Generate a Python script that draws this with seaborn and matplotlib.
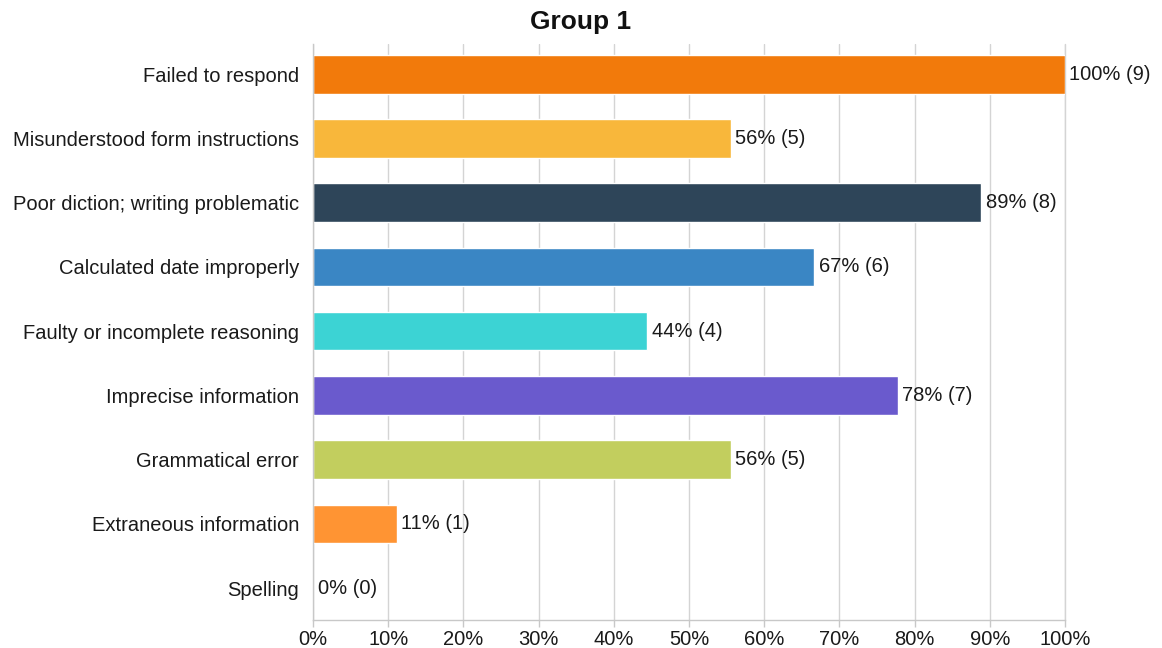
import matplotlib
matplotlib.use("Agg")
import matplotlib.pyplot as plt
import seaborn as sns
import pandas as pd
import numpy as np

categories = ["Failed to respond", "Misunderstood form instructions", "Poor diction; writing problematic",
              "Calculated date improperly", "Faulty or incomplete reasoning", "Imprecise information",
              "Grammatical error", "Extraneous information", "Spelling"]
counts = [9, 5, 8, 6, 4, 7, 5, 1, 0]
total = 9
colors = ["#F27A0B", "#F8B73B", "#2E4559", "#3A86C4", "#3CD3D4", "#6A5ACD", "#C2CE5E", "#FF9433", "#999999"]
xticks = [0, 10, 20, 30, 40, 50, 60, 70, 80, 90, 100]

pct = [c / total * 100 for c in counts]
df = pd.DataFrame({"cat": categories, "pct": pct})

sns.set_theme(style="white")
plt.rcParams['font.family'] = ['Liberation Sans', 'DejaVu Sans']

fs = 14.5
grid_c = "#d4d4d4"
fig = plt.figure(figsize=(11.62, 6.48), dpi=100)
ax = fig.add_axes([0.2694, 0.043, 0.6471, 0.889])
sns.barplot(data=df, x="pct", y="cat", hue="cat", palette=colors, legend=False,
            orient="h", width=0.6, ax=ax, saturation=1)

ax.set_xlim(0, 100)
ax.set_ylim(8.5, -0.47)
ax.set_xticks(xticks)
ax.set_xticklabels([f"{t}%" for t in xticks], fontsize=fs, color="#1a1a1a")
ax.tick_params(axis="x", length=5, color="#c8c8c8", width=1, pad=2, bottom=True)
ax.tick_params(axis="y", length=0, pad=10, labelsize=fs, labelcolor="#1a1a1a")
ax.xaxis.grid(True, color=grid_c, linewidth=1)
ax.set_axisbelow(True)
for s in ["top", "right"]:
    ax.spines[s].set_visible(False)
for s in ["left", "bottom"]:
    ax.spines[s].set_color("#c8c8c8")
    ax.spines[s].set_linewidth(1)
ax.axvline(100, color=grid_c, linewidth=1, zorder=0.5, clip_on=False)
ax.set_xlabel("")
ax.set_ylabel("")

for i, (p, c) in enumerate(zip(pct, counts)):
    ax.text(p + 0.6, i, f"{round(p)}% ({c})", va="center", ha="left", fontsize=fs, color="#1a1a1a")

fig.suptitle("Group 1", x=0.5, y=1 - 22 / 648, va="center", fontsize=19, fontweight="bold", color="#111111")

fig.savefig("out.png", dpi=100)
